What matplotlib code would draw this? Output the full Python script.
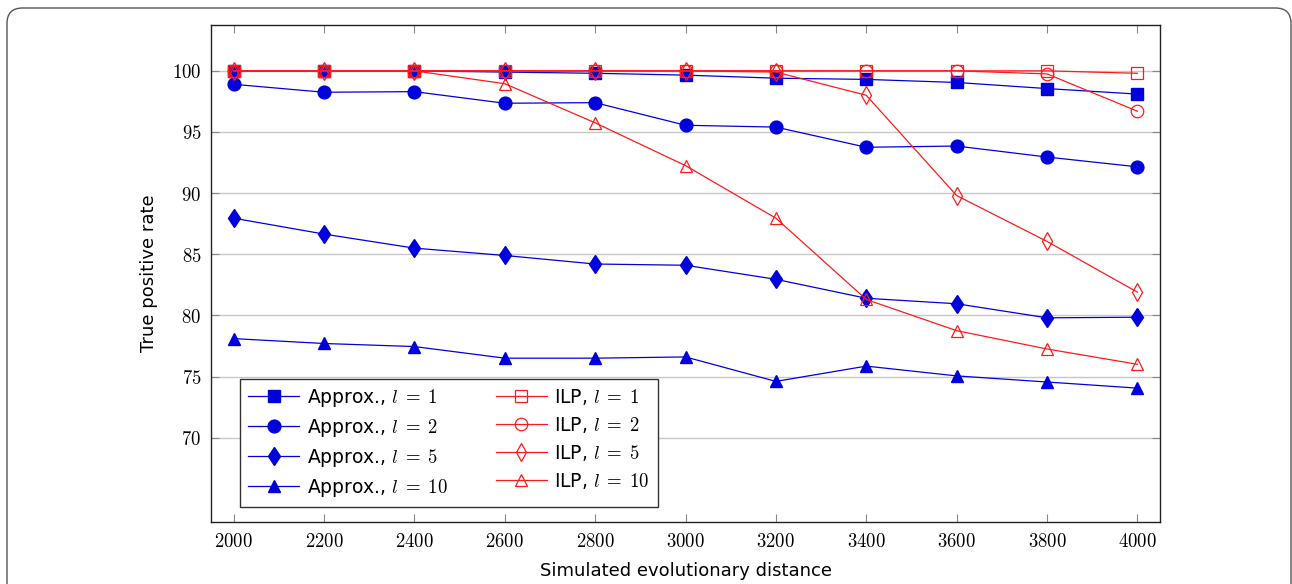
import matplotlib
matplotlib.use("Agg")
import matplotlib.pyplot as plt
from matplotlib.patches import FancyBboxPatch
from matplotlib.ticker import FuncFormatter

plt.rcParams["mathtext.fontset"] = "cm"
plt.rcParams["font.family"] = "DejaVu Sans"

distance = [2000, 2200, 2400, 2600, 2800, 3000, 3200, 3400, 3600, 3800, 4000]

approx_l1 = [100.0, 100.0, 100.0, 99.9, 99.8, 99.65, 99.4, 99.3, 99.05, 98.55, 98.1]
approx_l2 = [98.9, 98.25, 98.3, 97.35, 97.4, 95.55, 95.4, 93.75, 93.85, 92.95, 92.15]
approx_l5 = [87.95, 86.65, 85.5, 84.9, 84.2, 84.1, 82.95, 81.4, 80.95, 79.8, 79.85]
approx_l10 = [78.1, 77.7, 77.45, 76.5, 76.5, 76.6, 74.6, 75.85, 75.05, 74.55, 74.05]

ilp_l1 = [100.0, 100.0, 100.0, 100.0, 100.0, 100.0, 100.0, 100.0, 100.0, 100.0, 99.8]
ilp_l2 = [100.0, 100.0, 100.0, 100.0, 100.0, 100.0, 100.0, 100.0, 100.0, 99.75, 96.7]
ilp_l5 = [100.0, 100.0, 100.0, 100.0, 100.0, 100.0, 99.9, 98.0, 89.8, 86.05, 81.9]
ilp_l10 = [100.0, 100.0, 100.0, 98.95, 95.75, 92.25, 87.95, 81.3, 78.75, 77.25, 76.0]

y_ticks = [70, 75, 80, 85, 90, 95, 100]

fig = plt.figure(figsize=(12.92, 5.84), dpi=100)

# rounded outer frame
frame = FancyBboxPatch((7 / 1292, -0.05), 1284 / 1292, 1 - 8 / 584 + 0.05,
                       boxstyle="round,pad=0,rounding_size=0.012",
                       transform=fig.transFigure, fill=False,
                       edgecolor="#555555", linewidth=1.0, mutation_aspect=1292 / 584)
fig.patches.append(frame)

ax = fig.add_axes([211 / 1292, 1 - 522 / 584, (1160 - 211) / 1292, (522 - 25) / 584])

blue = "#0000dd"
red = "#ff1a1a"
lw = 0.9

approx = [(approx_l1, "s", 8.8), (approx_l2, "o", 9.2), (approx_l5, "d", 9.5), (approx_l10, "^", 8.2)]
ilp = [(ilp_l1, "s", 8.8), (ilp_l2, "o", 9.0), (ilp_l5, "d", 9.0), (ilp_l10, "^", 8.2)]
levels = [1, 2, 5, 10]

handles = []
for (vals, m, ms), l in zip(approx, levels):
    h, = ax.plot(distance, vals, color=blue, linewidth=lw, marker=m, markersize=ms,
                 markerfacecolor=blue, markeredgecolor=blue,
                 label=rf"Approx., $l\;=\;{l}$")
    handles.append(h)
for (vals, m, ms), l in zip(ilp, levels):
    h, = ax.plot(distance, vals, color=red, linewidth=lw, marker=m, markersize=ms,
                 markerfacecolor="none", markeredgecolor=red, markeredgewidth=0.9,
                 label=rf"ILP, $l\;=\;{l}$")
    handles.append(h)

ax.set_xlim(1950, 4050)
ax.set_ylim(63.1, 103.75)
ax.set_xticks(distance)
ax.set_yticks(y_ticks)
fmt = FuncFormatter(lambda v, _: rf"${v:g}$")
ax.xaxis.set_major_formatter(fmt)
ax.yaxis.set_major_formatter(fmt)
ax.tick_params(direction="in", length=6, width=0.8, color="#888888",
               top=True, right=True, labelsize=13.5, pad=7)
ax.grid(True, axis="y", color="#c8c8c8", linewidth=1.0)
ax.set_axisbelow(True)
for s in ax.spines.values():
    s.set_linewidth(1.0)
    s.set_color("#222222")

ax.set_xlabel("Simulated evolutionary distance", fontsize=13, labelpad=8)
ax.set_ylabel("True positive rate", fontsize=13, labelpad=10)

leg = ax.legend(handles=handles, ncol=2, loc="lower left",
                bbox_to_anchor=((240 - 211) / 949, (522 - 507) / 497),
                borderaxespad=0, fontsize=13.5, handlelength=2.7,
                handletextpad=0.4, columnspacing=2.6, labelspacing=0.42,
                fancybox=False, framealpha=1, edgecolor="#333333",
                borderpad=0.45)
leg.get_frame().set_linewidth(1.0)

fig.savefig("out.png", dpi=100)
